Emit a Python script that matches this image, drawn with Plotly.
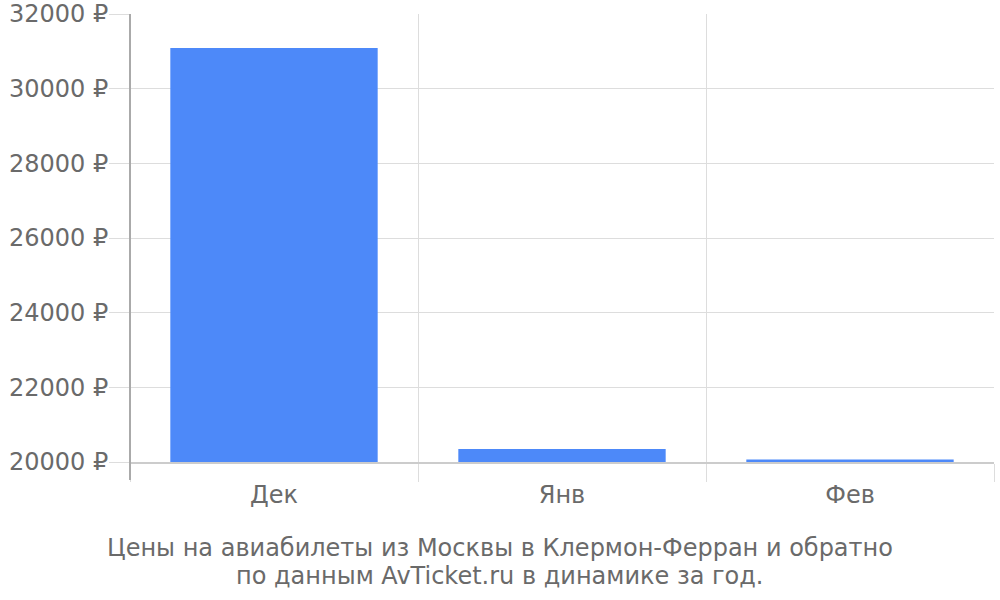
import plotly.graph_objects as go

categories = ["Дек", "Янв", "Фев"]
prices = [31090, 20350, 20070]
y_ticks = [20000, 22000, 24000, 26000, 28000, 30000, 32000]
y_tick_labels = [f"{v} ₽" for v in y_ticks]
title_lines = ["Цены на авиабилеты из Москвы в Клермон-Ферран и обратно",
               "по данным AvTicket.ru в динамике за год."]

fig = go.Figure()
fig.add_trace(go.Bar(x=categories, y=prices, marker_color="#4d89f9",
                     marker_line_width=0, width=0.72, hoverinfo="skip"))

font = "DejaVu Sans"
text_color = "#6a6a6a"
fig.update_layout(
    width=1000, height=600,
    margin=dict(l=130, r=6, t=14, b=138, autoexpand=False),
    paper_bgcolor="white", plot_bgcolor="white",
    showlegend=False,
    font=dict(family=font, color=text_color, size=24),
    xaxis=dict(type="category", tickson="boundaries", ticks="outside", ticklen=18,
               tickcolor="#dddddd", showgrid=True, gridcolor="#dddddd", gridwidth=1,
               showline=True, linecolor="#cccccc", linewidth=2, automargin=False,
               ticklabelstandoff=10,
               tickfont=dict(size=24, color=text_color)),
    yaxis=dict(range=[20000, 32000], tickvals=y_ticks, ticktext=y_tick_labels,
               ticks="outside", ticklen=20, tickcolor="#dddddd", automargin=False,
               ticklabelstandoff=-4,
               showgrid=True, gridcolor="#dddddd", zeroline=False,
               showline=False, tickfont=dict(size=24, color=text_color)),
)
fig.add_shape(type="line", xref="paper", yref="paper", x0=0, x1=0, y0=-0.04, y1=1,
              line=dict(color="#aaaaaa", width=2))
for i, line in enumerate(title_lines):
    fig.add_annotation(xref="paper", yref="paper", x=0.428, y=-0.192 - i * 0.0625,
                       yanchor="middle", xanchor="center", showarrow=False,
                       text=line, font=dict(family=font, size=24, color=text_color))
fig.write_html("out.html", config={"displayModeBar": False},
               post_script="document.body.style.margin='0';")
